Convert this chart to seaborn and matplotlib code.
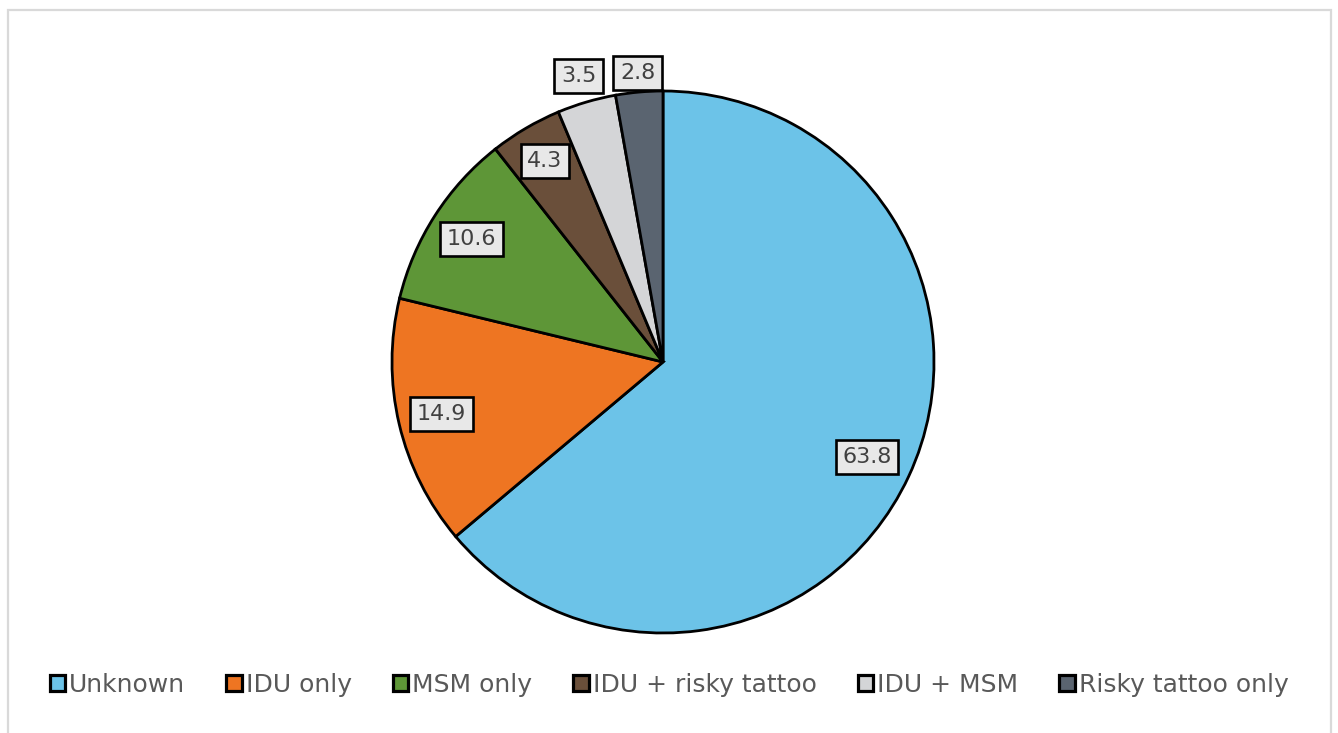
import numpy as np
import matplotlib
matplotlib.use("Agg")
import matplotlib.pyplot as plt
from matplotlib.patches import Rectangle
import seaborn as sns

# Share of cases by risk category (%)
categories = ["Unknown", "IDU only", "MSM only", "IDU + risky tattoo", "IDU + MSM", "Risky tattoo only"]
shares = [63.8, 14.9, 10.6, 4.3, 3.5, 2.8]
label_texts = ["63.8", "14.9", "10.6", "4.3", "3.5", "2.8"]
colors = ["#6cc3e8", "#ee7522", "#5e9637", "#6a4f3a", "#d4d5d7", "#5a6470"]
# Radial position of each value box, in units of the pie radius
label_radius = [0.83, 0.84, 0.84, 0.86, 1.10, 1.07]

sns.set_theme(style="white")
plt.rcParams["font.family"] = ["DejaVu Sans"]

W, H = 1338, 733
fig = plt.figure(figsize=(W / 100, H / 100), dpi=100)
fig.patch.set_facecolor("white")

# Light grey chart-area frame (open at the bottom)
frame = fig.add_axes([0, 0, 1, 1])
frame.set_xlim(0, W)
frame.set_ylim(H, 0)
frame.axis("off")
frame.plot([8, 8, 1331, 1331], [H + 5, 10, 10, H + 5], color="#d9d9d9", lw=1.6,
           solid_joinstyle="miter")

# Pie axes: centre (663, 362) px, radius 271 px
cx, cy, r = 663, 362, 271
lim = 1.2
side = 2 * lim * r
ax = fig.add_axes([(cx - side / 2) / W, (H - cy - side / 2) / H, side / W, side / H])
wedges, _ = ax.pie(shares, colors=colors, startangle=90, counterclock=False,
                   radius=1.0,
                   wedgeprops=dict(edgecolor="black", linewidth=2.0))
ax.set_xlim(-lim, lim)
ax.set_ylim(-lim, lim)
ax.set_aspect("equal")
ax.axis("off")

for w, txt, rf in zip(wedges, label_texts, label_radius):
    ang = np.deg2rad((w.theta1 + w.theta2) / 2)
    ax.text(rf * np.cos(ang), rf * np.sin(ang), txt, ha="center", va="center",
            fontsize=16, color="#404040",
            bbox=dict(boxstyle="square,pad=0.3", facecolor="#e8e8e8",
                      edgecolor="black", linewidth=1.9))

handles = [Rectangle((0, 0), 1, 1, facecolor=c, edgecolor="black", linewidth=2.3)
           for c in colors]
leg = fig.legend(handles, categories, loc="center", bbox_to_anchor=(0.5, (H - 685) / H),
                 ncol=len(categories), frameon=False, fontsize=18,
                 handlelength=0.62, handleheight=0.62, handletextpad=0.15,
                 columnspacing=1.65, labelcolor="#595959")

fig.savefig("out.png", dpi=100, facecolor="white")
